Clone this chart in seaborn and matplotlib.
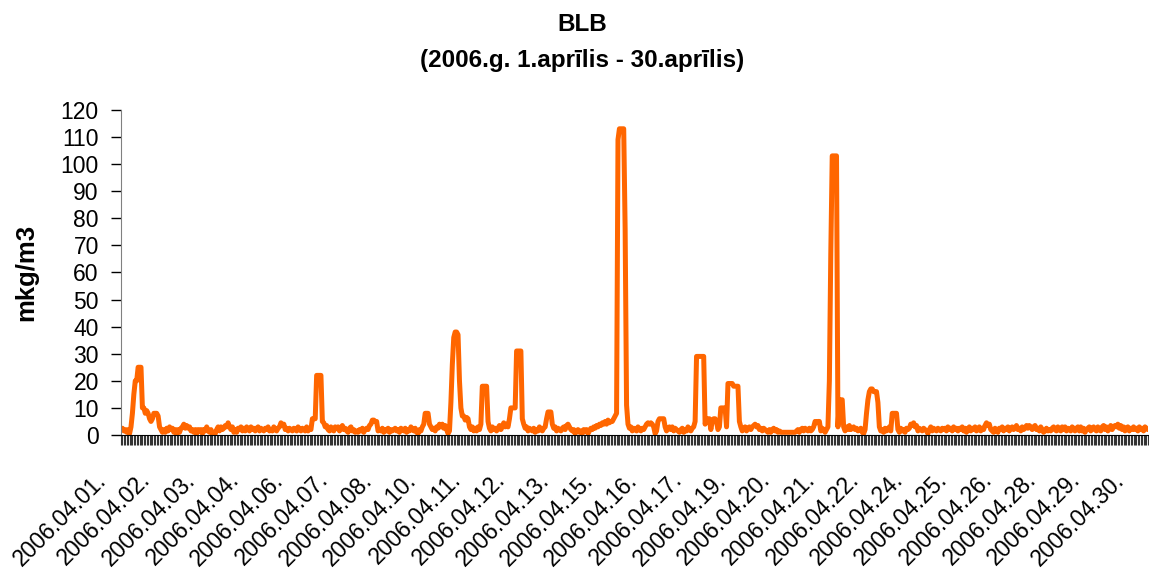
import numpy as np
import pandas as pd
import seaborn as sns
import matplotlib.pyplot as plt
from matplotlib.transforms import ScaledTranslation

# hourly BLB values, April 2006, one list per day
day01 = [2, 2.5, 1.5, 2, 1, 2, 0.5, 3, 8, 15, 20, 20, 25, 25, 25, 10, 10, 8, 9, 8, 6, 5, 6, 8]
day02 = [8, 8, 7, 3, 2, 1, 2, 1, 2.5, 1.5, 3, 2, 2.5, 1, 2, 0.5, 2, 1, 2.5, 3, 4, 2.5, 3.5, 2.5]
day03 = [3, 1.5, 2, 1, 2, 0.5, 2, 1.5, 2, 0.5, 2, 1.5, 3, 1.5, 1, 2, 0.5, 1, 0.5, 2, 3, 1.5, 3, 2]
day04 = [2.5, 3.5, 3, 4.5, 3, 2, 3, 1, 2, 1, 2.5, 2, 3, 1.5, 2.5, 1.5, 3, 2, 1.5, 3, 2, 2.5, 1.5, 2.5]
day05 = [3, 1.5, 2.5, 2, 1.5, 2.5, 2, 3, 1.5, 2, 1.5, 3, 2, 1.5, 2.5, 3, 4.5, 3.5, 4, 2, 2.5, 1.5, 2.5, 2]
day06 = [1.5, 2.5, 2, 1.5, 3, 2, 1.5, 2.5, 2, 1.5, 3, 1.5, 2.5, 2, 6, 6, 6, 22, 22, 22, 22, 5, 4.5, 3]
day07 = [3.5, 2, 1.5, 3, 2, 1.5, 3, 2.5, 3, 1.5, 2.5, 3.5, 2, 2.5, 1.5, 1, 2.5, 3, 1.5, 2, 1, 1.5, 1, 2]
day08 = [1.5, 2.5, 1, 2, 2.5, 2, 3.5, 4, 5.5, 5.5, 5, 5, 1.5, 2, 1.5, 2.5, 1, 2, 1.5, 2.5, 1, 2, 1.5, 2]
day09 = [2.5, 1.5, 2, 1, 2.5, 2, 1.5, 2.5, 1, 2, 1.5, 3, 2, 1.5, 2.5, 1, 0.5, 2, 1.5, 3, 4, 8, 8, 8]
day10 = [4, 3, 2, 2.5, 1.5, 3, 2.5, 4, 3, 4, 2.5, 3.5, 2, 0.5, 1.5, 12, 26, 36, 38, 38, 37, 20, 10, 7]
day11 = [7, 5.5, 6.5, 6, 3, 2, 3, 1.5, 2.5, 1.5, 3, 2, 4, 18, 18, 18, 18, 5, 2.5, 1.5, 3, 2, 2.5, 1.5]
day12 = [2.5, 3.5, 2, 3, 4.5, 3, 4, 3, 6, 10, 10, 10, 10, 31, 31, 31, 31, 6, 4, 2.5, 3, 1.5, 2.5, 2]
day13 = [1.5, 2.5, 1, 2, 1.5, 3, 2, 1.5, 2.5, 3, 6, 8.5, 8.5, 8.5, 4, 2.5, 3, 1.5, 2.5, 2, 1.5, 2.5, 3, 2]
day14 = [3.5, 4, 3, 2, 1.5, 2, 0.5, 1.5, 2, 1, 1.5, 0.5, 2, 1.5, 2, 0.5, 1.5, 2.5, 2, 3, 2.5, 3.5, 3, 4]
day15 = [3.5, 4.5, 4, 5, 4, 5.5, 4.5, 5, 5, 6, 7, 8, 109, 113, 113, 113, 113, 76, 11, 4, 2.5, 3, 1.5, 2.5]
day16 = [2, 1.5, 3, 2, 1.5, 2.5, 2, 3, 4, 4.5, 4, 4.5, 4, 3, 0.5, 1.5, 5, 6, 6, 6, 6, 3, 1.5, 2.5]
day17 = [3, 2, 3, 1.5, 2.5, 2, 1.5, 1, 2, 2.5, 1, 2, 1.5, 3, 2, 1.5, 2.5, 3, 5, 29, 29, 29, 29, 29]
day18 = [29, 4, 6, 6, 6, 2, 5, 6, 6, 5, 2, 3, 10, 10, 10, 10, 3, 19, 19, 19, 19, 18, 18, 18]
day19 = [18, 5, 3, 1.5, 2.5, 3, 1.5, 2.5, 3, 2, 3, 3.5, 4, 3, 3.5, 2, 2.5, 1.5, 2.5, 2, 1.5, 1, 2, 1]
day20 = [2, 2.5, 1.5, 2, 1, 1.5, 1, 1, 1, 1, 1, 1, 1, 1, 1, 1, 1, 1.5, 2, 1, 2, 2.5, 1.5, 2.5]
day21 = [2, 1.5, 2.5, 1.5, 2, 3, 5, 4.5, 5, 5, 1.5, 2.5, 2, 1, 2, 3, 20, 67, 103, 103, 103, 103, 3, 13]
day22 = [13, 13, 3, 1.5, 3, 2, 3.5, 2, 2.5, 3, 2, 2.5, 1.5, 2, 2.5, 1, 0.5, 2, 8, 13, 16, 17, 17, 16]
day23 = [16, 16, 12, 3, 1.5, 2, 1, 2.5, 1.5, 2, 3, 1.5, 8, 8, 8, 8, 2, 1, 2.5, 1.5, 2, 1, 2.5, 2]
day24 = [2.5, 4, 3.5, 4.5, 3, 3.5, 1.5, 2.5, 2, 1.5, 2.5, 2, 1.5, 0.5, 2, 3, 1.5, 2.5, 2, 1.5, 2.5, 2, 1.5, 2.5]
day25 = [2, 2.5, 1.5, 3, 2, 2.5, 1.5, 3, 2, 2.5, 1.5, 2.5, 2, 3, 1.5, 2.5, 1, 2, 3, 1.5, 2.5, 2, 3, 1.5]
day26 = [2, 3, 1.5, 2.5, 2, 3.5, 4.5, 3.5, 4, 2, 1.5, 1, 2.5, 1.5, 1, 2.5, 2, 3, 1.5, 2.5, 2, 3, 1.5, 2.5]
day27 = [3, 2, 2.5, 3.5, 2, 2.5, 1.5, 3, 2, 2.5, 3.5, 2.5, 3.5, 3, 2, 3, 3.5, 2, 2.5, 1.5, 3, 2, 1, 1.5]
day28 = [2.5, 1.5, 2, 1.5, 2.5, 3, 2, 1.5, 3, 2, 1.5, 3, 2, 3, 1.5, 2.5, 2, 1.5, 3, 2.5, 1.5, 2.5, 3, 1.5]
day29 = [3, 1.5, 2.5, 1, 2, 2.5, 3, 1.5, 2.5, 3, 2, 1.5, 3, 2, 1.5, 3, 3.5, 2, 3, 1.5, 2.5, 3.5, 2, 3]
day30 = [3.5, 3, 4, 2.5, 3.5, 2, 3, 1.5, 2.5, 3, 1.5, 2.5, 2, 3, 2, 2.5, 1.5, 3, 2, 2.5, 1.5, 3, 2.5, 2]

days = [day01, day02, day03, day04, day05, day06, day07, day08, day09, day10,
        day11, day12, day13, day14, day15, day16, day17, day18, day19, day20,
        day21, day22, day23, day24, day25, day26, day27, day28, day29, day30]

tick_labels = ["2006.04.01.", "2006.04.02.", "2006.04.03.", "2006.04.04.", "2006.04.06.",
               "2006.04.07.", "2006.04.08.", "2006.04.10.", "2006.04.11.", "2006.04.12.",
               "2006.04.13.", "2006.04.15.", "2006.04.16.", "2006.04.17.", "2006.04.19.",
               "2006.04.20.", "2006.04.21.", "2006.04.22.", "2006.04.24.", "2006.04.25.",
               "2006.04.26.", "2006.04.28.", "2006.04.29.", "2006.04.30."]

values = [v for d in days for v in d]
df = pd.DataFrame({"hour": np.arange(len(values)), "value": values})

sns.set_style("white")
plt.rcParams['font.family'] = ['Liberation Sans', 'DejaVu Sans']
plt.rcParams['text.color'] = 'black'
plt.rcParams['axes.labelcolor'] = 'black'
plt.rcParams['xtick.color'] = 'black'
plt.rcParams['ytick.color'] = 'black'

fig = plt.figure(figsize=(11.49, 5.69), dpi=100)
ax = fig.add_axes([0.1053, 0.2355, 0.8937, 0.5715])

sns.lineplot(data=df, x="hour", y="value", color="#FF6600", linewidth=3.6, ax=ax)

ax.set_xlim(0, len(values) - 1)
ax.set_ylim(0, 120)
ax.set_yticks(range(0, 121, 10))
ax.tick_params(axis='y', labelsize=16.5, length=7, width=1, color='black', left=True, pad=9)

# label every 31st hour, tick mark at every hour
ax.set_xticks(np.arange(0, len(values), 31))
ax.set_xticklabels(tick_labels, rotation=45, ha='right', va='top')
ax.set_xticks(np.arange(len(values)), minor=True)
ax.tick_params(axis='x', which='both', bottom=True, length=7, width=0.8, color='#333333')
ax.tick_params(axis='x', which='major', labelsize=16.5, pad=17)
shift = ScaledTranslation(-10 / 100, 0, fig.dpi_scale_trans)
for lab in ax.get_xticklabels():
    lab.set_transform(lab.get_transform() + shift)

for s in ['top', 'right']:
    ax.spines[s].set_visible(False)
ax.spines['left'].set_color('#808080')
ax.spines['bottom'].set_color('black')

ax.set_xlabel("")
ax.set_ylabel("mkg/m3", fontsize=18.5, fontweight='bold')
ax.yaxis.set_label_coords(-0.081, 0.5)

fig.text(0.507, 0.957, "BLB", ha='center', va='center', fontsize=17.5, fontweight='bold')
fig.text(0.507, 0.893, "(2006.g. 1.aprīlis - 30.aprīlis)", ha='center', va='center',
         fontsize=17.5, fontweight='bold')

fig.savefig("out.png", dpi=100)
